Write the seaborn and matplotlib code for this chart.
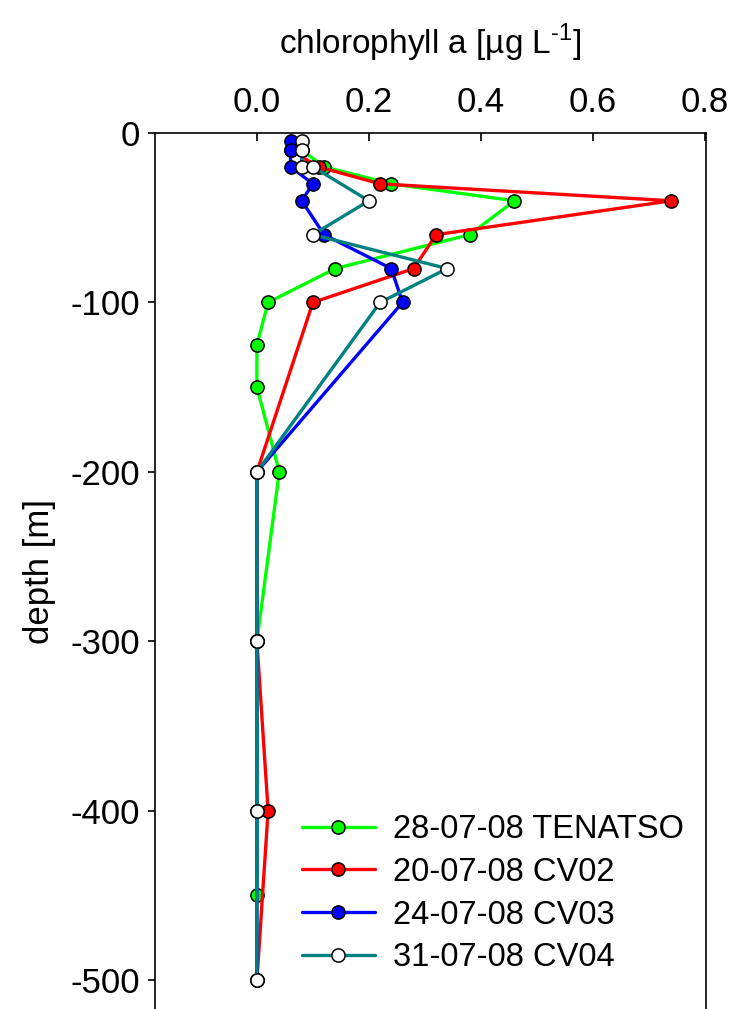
import seaborn as sns
import matplotlib.pyplot as plt
import pandas as pd

# depth profiles of chlorophyll a
tenatso_depth = [-10, -20, -30, -40, -60, -80, -100, -125, -150, -200, -300, -450]
tenatso_chl = [0.08, 0.12, 0.24, 0.46, 0.38, 0.14, 0.02, 0.0, 0.0, 0.04, 0.0, 0.0]

cv02_depth = [-10, -20, -30, -40, -60, -80, -100, -200, -300, -400, -500]
cv02_chl = [0.06, 0.11, 0.22, 0.74, 0.32, 0.28, 0.10, 0.0, 0.0, 0.02, 0.0]

cv03_depth = [-5, -10, -20, -30, -40, -60, -80, -100, -200, -300, -400, -500]
cv03_chl = [0.06, 0.06, 0.06, 0.10, 0.08, 0.12, 0.24, 0.26, 0.0, 0.0, 0.0, 0.0]

cv04_depth = [-5, -10, -20, -20, -40, -60, -80, -100, -200, -300, -400, -500]
cv04_chl = [0.08, 0.08, 0.08, 0.10, 0.20, 0.10, 0.34, 0.22, 0.0, 0.0, 0.0, 0.0]

labels = ["28-07-08 TENATSO", "20-07-08 CV02", "24-07-08 CV03", "31-07-08 CV04"]
line_colors = ["#00ff00", "#ff0000", "#0000ff", "#008080"]
face_colors = ["#00ff00", "#ff0000", "#0000ff", "#ffffff"]

xticks = [0.0, 0.2, 0.4, 0.6, 0.8]
yticks = [0, -100, -200, -300, -400, -500]

sns.set_style("ticks")
plt.rcParams['font.family'] = ['Liberation Sans', 'DejaVu Sans']
plt.rcParams['mathtext.fontset'] = 'custom'
plt.rcParams['mathtext.rm'] = 'Liberation Sans'
plt.rcParams['font.size'] = 25
for key in ['text.color', 'axes.labelcolor', 'xtick.color', 'ytick.color', 'axes.edgecolor']:
    plt.rcParams[key] = 'black'

fig = plt.figure(figsize=(7.33, 10.09), dpi=100)
ax = fig.add_axes([155 / 733, 0.0, (706 - 155) / 733, 1 - 133 / 1009])

profiles = [
    (tenatso_chl, tenatso_depth),
    (cv02_chl, cv02_depth),
    (cv03_chl, cv03_depth),
    (cv04_chl, cv04_depth),
]

for (chl, depth), lab, lc, fc in zip(profiles, labels, line_colors, face_colors):
    df = pd.DataFrame({'chl': chl, 'depth': depth})
    sns.lineplot(data=df, x='chl', y='depth', orient='y', sort=False, estimator=None,
                 color=lc, linewidth=2.4, marker='o', markersize=9.5,
                 markerfacecolor=fc, markeredgecolor='black', markeredgewidth=1.1,
                 label=lab, ax=ax)

ax.set_xlim(-0.182, 0.802)
ax.set_ylim(-517, 0)
ax.set_xticks(xticks)
ax.set_xticklabels([f"{v:.1f}" for v in xticks])
ax.set_yticks(yticks)
ax.set_yticklabels([str(v) for v in yticks])

ax.xaxis.tick_top()
ax.xaxis.set_label_position('top')
ax.tick_params(axis='x', direction='in', length=6, width=1.2, pad=10)
ax.tick_params(axis='y', direction='out', length=5, width=1.2, pad=6)
ax.set_xlabel(r"chlorophyll a [µg L$^{\text{-1}}$]", labelpad=23, fontsize=24)
ax.set_ylabel("depth [m]", labelpad=10)

for side in ['top', 'left', 'right']:
    ax.spines[side].set_linewidth(1.2)
ax.spines['bottom'].set_visible(False)

leg = ax.legend(loc='lower left', bbox_to_anchor=(282 / 733, 16 / 1009), bbox_transform=fig.transFigure,
                frameon=True, facecolor='white', edgecolor='none', framealpha=1,
                fontsize=23.5, handlelength=2.25, handletextpad=0.55, labelspacing=0.36,
                borderpad=0.1, fancybox=False)
leg.set_zorder(5)

fig.savefig("out.png", dpi=100)
